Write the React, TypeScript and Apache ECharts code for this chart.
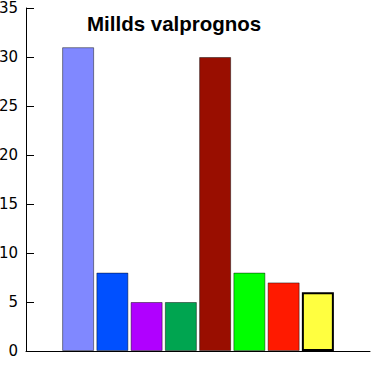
import React, { useEffect, useRef } from "react";
import * as echarts from "echarts";

const seriesNames = ["A", "B", "C", "D", "E", "F", "G", "H"];
const seriesValues = [31, 8, 5, 5, 30, 8, 7, 6];
const seriesColors = ["#8088ff", "#0050ff", "#b000ff", "#00a550", "#990e00", "#00ff00", "#ff1a00", "#ffff40"];
const yTicks = { min: 0, max: 35, interval: 5 };
const titleText = "Millds valprognos";

export default function App() {
  const ref = useRef<HTMLDivElement>(null);
  useEffect(() => {
    document.body.style.margin = "0";
    const chart = echarts.init(ref.current!, null, { renderer: "svg" });
    chart.setOption({
      animation: false,
      title: {
        text: titleText,
        left: 87,
        top: 13,
        padding: 0,
        textStyle: { fontFamily: "Liberation Sans", fontWeight: "bold", fontSize: 20.5, color: "#000" },
      },
      grid: { left: 26, right: 1, top: 8, bottom: 19, containLabel: false, outerBoundsMode: "none" },
      xAxis: {
        type: "category",
        data: [""],
        axisLine: { lineStyle: { color: "#000", width: 1 } },
        axisTick: { inside: true, length: 8, lineStyle: { color: "#000" } },
        axisLabel: { show: false },
        splitLine: { show: false },
      },
      yAxis: {
        type: "value",
        min: yTicks.min,
        max: yTicks.max,
        interval: yTicks.interval,
        axisLine: { show: true, lineStyle: { color: "#000", width: 1 } },
        axisTick: { show: true, inside: true, length: 8, lineStyle: { color: "#000" } },
        axisLabel: { color: "#000", fontFamily: "DejaVu Sans", fontSize: 15, margin: 8 },
        splitLine: { show: false },
      },
      series: seriesNames.map((n, i) => ({
        name: n,
        type: "bar",
        data: [seriesValues[i]],
        barCategoryGap: "21%",
        barGap: "7%",
        itemStyle: {
          color: seriesColors[i],
          borderColor: i === 7 ? "#000" : "rgba(0,0,0,0.45)",
          borderWidth: i === 7 ? 2 : 1,
        },
      })),
    });
    return () => chart.dispose();
  }, []);
  return <div ref={ref} style={{ width: 371, height: 370 }} />;
}
